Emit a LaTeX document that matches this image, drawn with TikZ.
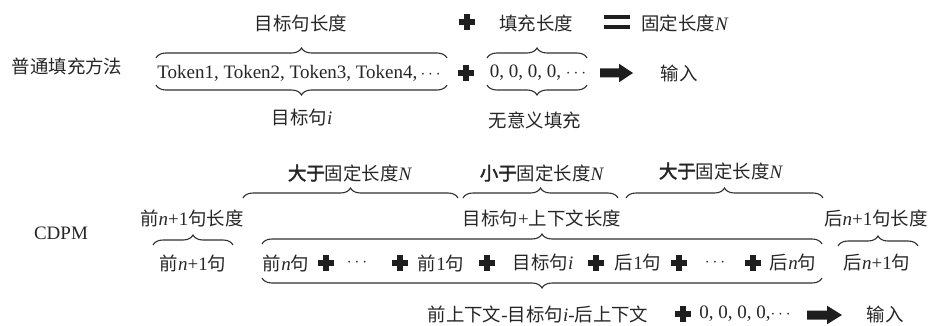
\documentclass[tikz,border=0pt]{standalone}
\usepackage{fontspec}
\setmainfont{Liberation Serif}
\newfontfamily\cj[Scale=0.97]{Noto Sans CJK SC}
\newfontfamily\cjb[Scale=0.97,FakeBold=2.5]{Noto Sans CJK SC}
\usetikzlibrary{decorations.pathreplacing}
\newcommand\zh[1]{{\cj #1}}
\newcommand\zhb[1]{{\cjb #1}}
\definecolor{ink}{HTML}{262626}
\definecolor{brc}{HTML}{303030}
\definecolor{sym}{HTML}{1E1E1E}
\begin{document}
\begin{tikzpicture}[x=1pt,y=-1pt,
  every node/.style={font=\fontsize{19}{21}\selectfont, text=ink},
  plussym/.style={minimum size=16pt, inner sep=0pt, path picture={
     \fill[sym] ([xshift=-8pt,yshift=-2.6pt]path picture bounding box.center) rectangle ++(16pt,5.2pt);
     \fill[sym] ([xshift=-2.6pt,yshift=-8pt]path picture bounding box.center) rectangle ++(5.2pt,16pt);}},
  eqsym/.style={minimum width=26pt, minimum height=16pt, inner sep=0pt, path picture={
     \fill[sym] ([xshift=-13pt,yshift=3pt]path picture bounding box.center) rectangle ++(26pt,4.3pt);
     \fill[sym] ([xshift=-13pt,yshift=-7.3pt]path picture bounding box.center) rectangle ++(26pt,4.3pt);}},
  brace/.style={decorate, decoration={brace, amplitude=10pt}, draw=brc, line width=1.1pt},
  bigarrow/.style={fill=sym}
]
\useasboundingbox (0,0) rectangle (931,326);

% ---- row 1: ordinary padding ----
\node (a1) at (301,23) {\zh{目标句长度}};
\node[plussym] (p1) at (467,22) {};
\node (a2) at (536,23) {\zh{填充长度}};
\node[eqsym] (eq) at (617,22) {};
\node (a3) at (685,23) {\zh{固定长度}\textit{N}};

\node (m1) at (67,66) {\zh{普通填充方法}};
\node (tok) at (299,73) {Token1, Token2, Token3, Token4,\,$\cdots$};
\node[plussym] (p2) at (466,73) {};
\node (zr) at (538,73) {0, 0, 0, 0, $\cdots$};
\coordinate (ar1) at (600,73);
\fill[bigarrow] (ar1) ++(0,-4.5) -- ++(19,0) -- ++(0,-4.8) -- ++(14,9.3) -- ++(-14,9.3) -- ++(0,-4.8) -- ++(-19,0) -- cycle;
\node (in1) at (679,73) {\zh{输入}};
\node (b1) at (302,118) {\zh{目标句}\textit{i}};
\node (b2) at (535,120) {\zh{无意义填充}};

\draw[brace] (156,58) -- (447,58);
\draw[brace] (447,85) -- (156,85);
\draw[brace] (487,58) -- (587,58);
\draw[brace] (587,85) -- (487,85);

% ---- CDPM ----
\node (c0) at (61,233) {CDPM};
\node (c1) at (192,218) {\zh{前}\textit{n}+1\zh{句长度}};
\draw[brace] (153,245) -- (233,245);
\node (c2) at (193,263) {\zh{前}\textit{n}+1\zh{句}};

\draw[brace] (243,198) -- (458,198);
\node (g1) at (350,173) {\zhb{大于}\zh{固定长度}\textit{N}};
\draw[brace] (463,198) -- (618,198);
\node (g2) at (542,173) {\zhb{小于}\zh{固定长度}\textit{N}};
\draw[brace] (626,198) -- (823,198);
\node (g3) at (721,171) {\zhb{大于}\zh{固定长度}\textit{N}};

\node (c3) at (542,218) {\zh{目标句}+\zh{上下文长度}};
\node (c4) at (876,218) {\zh{后}\textit{n}+1\zh{句长度}};

\draw[brace] (262,244) -- (822,244);
\draw[brace] (822,278) -- (262,278);

\node (s1) at (286,263) {\zh{前}\textit{n}\zh{句}};
\node[plussym] (sp1) at (326,263) {};
\node (s2) at (357,263) {$\cdots$};
\node[plussym] (sp2) at (400,263) {};
\node (s3) at (441,263) {\zh{前}1\zh{句}};
\node[plussym] (sp3) at (487,263) {};
\node (s4) at (543,263) {\zh{目标句}\textit{i}};
\node[plussym] (sp4) at (596,263) {};
\node (s5) at (638,263) {\zh{后}1\zh{句}};
\node[plussym] (sp5) at (679,263) {};
\node (s6) at (715,263) {$\cdots$};
\node[plussym] (sp6) at (753,263) {};
\node (s7) at (793,263) {\zh{后}\textit{n}\zh{句}};

\draw[brace] (838,246) -- (918,246);
\node (c5) at (877,263) {\zh{后}\textit{n}+1\zh{句}};

\node (d1) at (538,314) {\zh{前上下文}-\zh{目标句}\textit{i}-\zh{后上下文}};
\node[plussym] (dp) at (683,314) {};
\node (d2) at (745,314) {0, 0, 0, 0,$\cdots$};
\coordinate (ar2) at (807,315);
\fill[bigarrow] (ar2) ++(0,-4.5) -- ++(20,0) -- ++(0,-4.8) -- ++(15,9.3) -- ++(-15,9.3) -- ++(0,-4.8) -- ++(-20,0) -- cycle;
\node (in2) at (885,314) {\zh{输入}};
\end{tikzpicture}
\end{document}
